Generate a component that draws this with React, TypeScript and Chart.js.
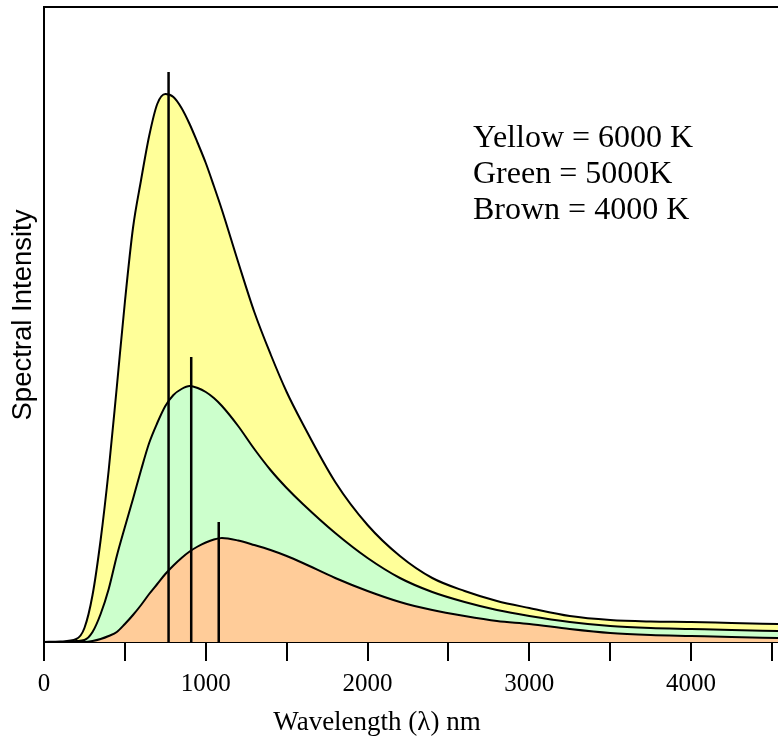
import React, { useEffect, useRef } from "react";
import { Chart, registerables } from "chart.js";

Chart.register(...registerables);

// Wavelength grid (nm)
const wavelengths = [
  0, 100, 200, 250, 300, 350, 400, 450, 500, 550, 600, 650, 700, 750, 800, 850, 900, 950,
  1000, 1050, 1100, 1200, 1300, 1400, 1500, 1600, 1800, 2000, 2200, 2400, 2600, 2800, 3000,
  3250, 3500, 3750, 4000, 4250, 4537,
];

// Spectral intensity (arbitrary units) for each temperature
const yellow6000K = [
  0, 0.5, 3, 14, 47, 102, 172, 255, 340, 414, 462, 506, 538, 548, 545, 534, 518, 499,
  479, 456, 432, 380, 330, 288, 250, 218, 160, 117, 86, 64, 51, 41, 34,
  26, 22, 20.5, 20, 19, 18,
];
const green5000K = [
  0, 0, 1, 2, 10, 28, 53, 86, 115, 143, 172, 199, 219, 236, 247, 253, 256, 254,
  250, 244, 236, 216, 193, 172, 154, 138, 109, 84, 64, 50, 40, 32, 26,
  20, 16, 14, 13, 12, 11,
];
const brown4000K = [
  0, 0, 0, 0, 1, 3, 6, 10, 18, 27, 37, 48, 58, 68, 76.5, 84, 90.5, 95.5,
  99.5, 102.5, 104, 101.5, 97, 92, 86, 79, 64, 51, 40, 32, 26, 21, 18,
  13, 9, 7, 6, 5, 4,
];

// Peak markers (vertical lines)
const peakWavelengths = [770, 910, 1080];
const peakMarkerHeights = [570, 285, 120];

// Axis
const xMin = 0;
const xMax = 4537;
const xTickValues = [0, 500, 1000, 1500, 2000, 2500, 3000, 3500, 4000, 4500];
const xTickLabels = ["0", "", "1000", "", "2000", "", "3000", "", "4000", ""];
const yMax = 635;

const xTitle = "Wavelength (λ) nm";
const yTitle = "Spectral Intensity";
const legendLines = ["Yellow = 6000 K", "Green = 5000K", "Brown = 4000 K"];

const serif = '"Liberation Serif", "Times New Roman", serif';
const sans = '"Liberation Sans", Arial, sans-serif';

export default function App() {
  const ref = useRef<HTMLCanvasElement>(null);

  useEffect(() => {
    if (!ref.current) return;
    const pts = (ys: number[]) => wavelengths.map((x, i) => ({ x, y: ys[i] }));
    const marker = (i: number) => [
      { x: peakWavelengths[i], y: 0 },
      { x: peakWavelengths[i], y: peakMarkerHeights[i] },
    ];

    const textPlugin = {
      id: "frameAndText",
      afterDraw(chart: any) {
        const { ctx, chartArea } = chart;
        const { left, top } = chartArea;
        ctx.save();
        ctx.strokeStyle = "#000";
        ctx.lineWidth = 2;
        ctx.beginPath();
        ctx.moveTo(left - 1, top);
        ctx.lineTo(chart.width, top);
        ctx.stroke();

        ctx.fillStyle = "#000";
        // x title
        ctx.font = `27px ${serif}`;
        ctx.textAlign = "center";
        ctx.textBaseline = "alphabetic";
        ctx.fillText(xTitle, 377, 730);

        // legend text
        ctx.font = `32px ${serif}`;
        ctx.textAlign = "left";
        legendLines.forEach((t, i) => ctx.fillText(t, 473, 147 + 36 * i));

        // y title
        ctx.translate(31, 315);
        ctx.rotate(-Math.PI / 2);
        ctx.font = `27.5px ${sans}`;
        ctx.textAlign = "center";
        ctx.fillText(yTitle, 0, 0);
        ctx.restore();
      },
    };

    const curve = (data: number[], color: string, order: number) => ({
      data: pts(data),
      borderColor: "#000",
      borderWidth: 2,
      backgroundColor: color,
      fill: "origin",
      pointRadius: 0,
      cubicInterpolationMode: "monotone" as const,
      order,
    });
    const line = (i: number) => ({
      data: marker(i),
      borderColor: "#000",
      borderWidth: 2.5,
      fill: false,
      pointRadius: 0,
      order: 0,
    });

    const chart = new Chart(ref.current, {
      type: "line",
      data: {
        datasets: [
          line(0),
          line(1),
          line(2),
          curve(brown4000K, "#FFCC99", 1),
          curve(green5000K, "#CCFFCC", 2),
          curve(yellow6000K, "#FFFF99", 3),
        ] as any,
      },
      options: {
        animation: false,
        responsive: false,
        events: [],
        layout: { padding: { left: 0, top: 7, right: 0, bottom: 0 } },
        plugins: { legend: { display: false }, tooltip: { enabled: false } },
        scales: {
          x: {
            type: "linear",
            bounds: "data",
            min: xMin,
            max: xMax,
            afterBuildTicks: (s: any) => {
              s.ticks = xTickValues.map((v) => ({ value: v }));
            },
            afterFit: (s: any) => {
              s.height = 95;
              s.paddingRight = 0;
              s.paddingLeft = 0;
            },
            border: { display: true, color: "#000", width: 2 },
            grid: {
              drawOnChartArea: false,
              drawTicks: true,
              tickLength: 19,
              color: "#000",
              lineWidth: 2,
            },
            ticks: {
              autoSkip: false,
              maxRotation: 0,
              padding: 8,
              color: "#000",
              font: { family: serif, size: 25 },
              callback: (_v: any, i: number) => xTickLabels[i] ?? "",
            },
          },
          y: {
            type: "linear",
            min: 0,
            max: yMax,
            afterFit: (s: any) => {
              s.width = 44;
            },
            border: { display: true, color: "#000", width: 2 },
            grid: { drawOnChartArea: false, drawTicks: false },
            ticks: { display: false },
          },
        },
      },
      plugins: [textPlugin],
    });
    return () => chart.destroy();
  }, []);

  return (
    <div style={{ position: "fixed", left: 0, top: 0, width: 778, height: 737, background: "#fff" }}>
      <canvas ref={ref} width={778} height={737} style={{ display: "block" }} />
    </div>
  );
}
